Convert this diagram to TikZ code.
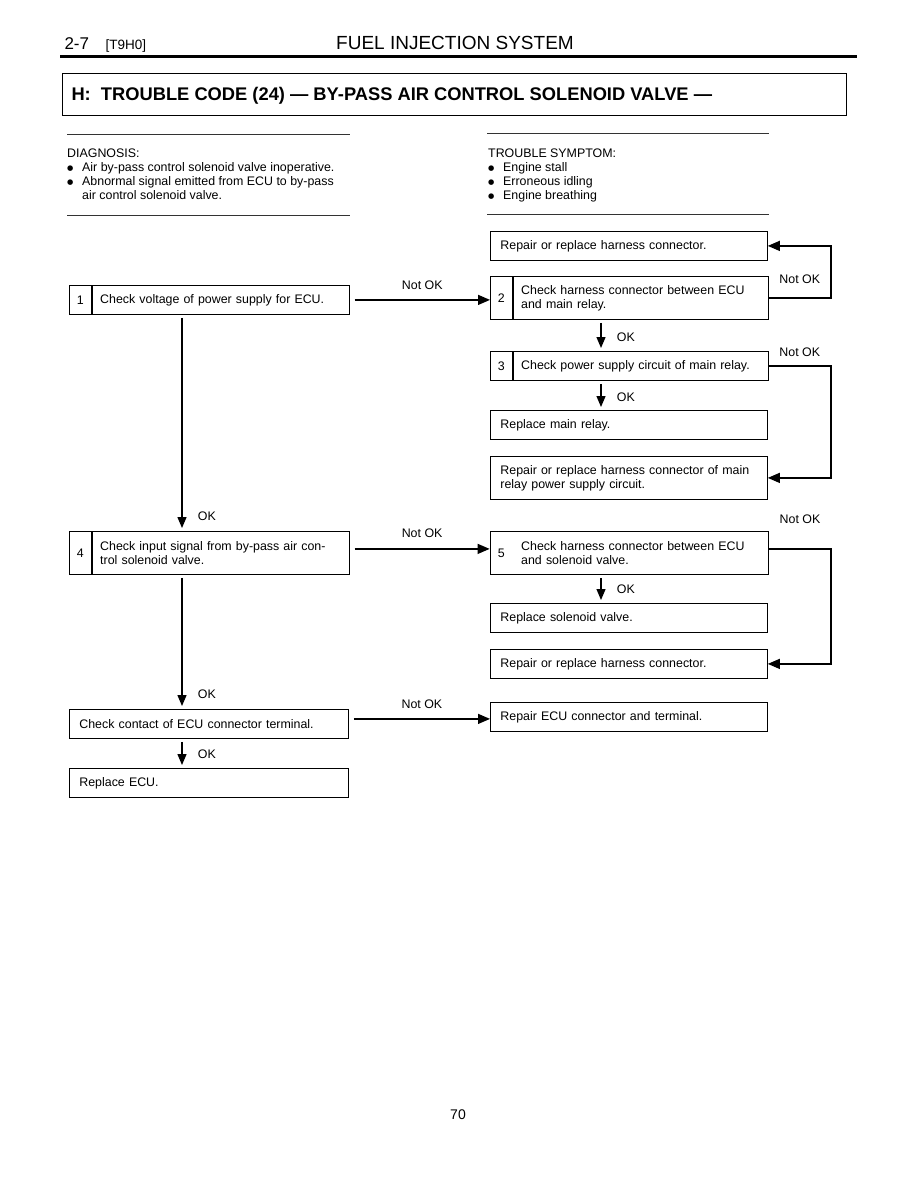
\documentclass[tikz,border=0pt]{standalone}
\usepackage{fontspec}
\setmainfont{Liberation Sans}
\newfontfamily\symfont{DejaVu Sans}
\usetikzlibrary{arrows.meta,positioning,fit}
\newcommand{\bul}{\makebox[15pt][l]{\raisebox{1.2pt}{\symfont\fontsize{7.2}{9}\selectfont ●}}}

\begin{document}
\begin{tikzpicture}[x=1pt,y=-1pt,
every node/.style={font=\fontsize{12.4}{14}\selectfont},
box/.style={draw,line width=.8pt,anchor=north west,inner xsep=10pt,inner ysep=0pt,
  align=left,text width=257pt,minimum height=29pt},
num/.style={draw,line width=.8pt,anchor=north west,inner sep=0pt,
  minimum width=22pt,minimum height=29pt},
cell/.style={draw,line width=.8pt,inner xsep=8pt,inner ysep=0pt,
  align=left,text width=241pt,minimum height=29pt},
tall/.style={minimum height=43pt},
link/.style={line width=1.3pt,-{Triangle[length=12pt,width=10pt]}},
okarrow/.style={line width=1.3pt,-{Triangle[length=11pt,width=9pt]},
  shorten <=3pt,shorten >=3pt},
rule/.style={line width=.7pt,black!80}]
\fill[white] (0,0) rectangle (918,1188);

% page header
\node[anchor=base west,font=\fontsize{17}{20}\selectfont] (pg) at (61,50) {2-7};
\node[anchor=base west,font=\fontsize{13.5}{16}\selectfont] (code) at (102,50) {[T9H0]};
\node[anchor=base,font=\fontsize{19}{22}\selectfont] (sec) at (455,50) {FUEL INJECTION SYSTEM};
\draw[line width=3pt] (60,57) -- (857,57);
\node[draw,line width=.8pt,anchor=north west,inner sep=0pt,
  minimum width=784pt,minimum height=42pt] (ttl) at (62,73) {};
\node[anchor=west,font=\bfseries\fontsize{18.3}{20}\selectfont] (ttltxt) at (68,96)
  {H:\ \ TROUBLE CODE (24) — BY-PASS AIR CONTROL SOLENOID VALVE —};

% diagnosis and symptom
\draw[rule] (67,134) -- (350,134);
\draw[rule] (67,215) -- (350,215);
\draw[rule] (487,133) -- (769,133);
\draw[rule] (487,214) -- (769,214);
\node[anchor=north west,inner sep=0pt,align=left,font=\fontsize{12.4}{14}\selectfont] (diag) at (67,149)
  {DIAGNOSIS:\\
   \bul Air by-pass control solenoid valve inoperative.\\
   \bul Abnormal signal emitted from ECU to by-pass\\
   \hspace*{15pt}air control solenoid valve.};
\node[anchor=north west,inner sep=0pt,align=left,font=\fontsize{12.4}{14}\selectfont] (symp) at (488,149)
  {TROUBLE SYMPTOM:\\
   \bul Engine stall\\
   \bul Erroneous idling\\
   \bul Engine breathing};

% left column
\node[num] (n1) at (69,285) {1};
\node[cell,right=0pt of n1] (b1) {Check voltage of power supply for ECU.};
\node[num,tall] (n4) at (69,531) {4};
\node[cell,tall,right=0pt of n4] (b4) {Check input signal from by-pass air con-\\trol solenoid valve.};
\node[box,text width=259pt] (b6) at (69,709) {Check contact of ECU connector terminal.};
\node[box,text width=259pt] (b7) at (69,768) {Replace ECU.};

% right column
\node[box] (r1) at (490,231) {Repair or replace harness connector.};
\node[num,tall] (n2) at (490,276) {2};
\node[cell,tall,text width=239pt,right=0pt of n2] (b2) {Check harness connector between ECU\\and main relay.};
\node[num] (n3) at (490,351) {3};
\node[cell,text width=239pt,right=0pt of n3] (b3) {Check power supply circuit of main relay.};
\node[box] (r3a) at (490,410) {Replace main relay.};
\node[box,tall] (r3b) at (490,456) {Repair or replace harness connector of main\\relay power supply circuit.};
\node[num,tall,draw=none] (n5) at (490,531) {5};
\node[cell,tall,draw=none,text width=239pt,right=0pt of n5] (b5) {Check harness connector between ECU\\and solenoid valve.};
\node[draw,line width=.8pt,inner sep=0pt,fit=(n5)(b5)] (f5) {};
\node[box] (r5a) at (490,603) {Replace solenoid valve.};
\node[box] (r5b) at (490,649) {Repair or replace harness connector.};
\node[box] (r6) at (490,702) {Repair ECU connector and terminal.};

\coordinate (lx) at (182,0);
\coordinate (rx) at (601,0);
\coordinate (loopx) at (831,0);

% Not OK links
\draw[link] ([xshift=5pt]b1.east) -- (b1.east -| n2.west) node[midway,above=6pt] {Not OK};
\draw[link] ([xshift=5pt,yshift=4pt]b4.east) -- ([yshift=4pt]b4.east -| f5.west) node[midway,above=7pt] {Not OK};
\draw[link] ([xshift=5pt,yshift=5pt]b6.east) -- ([yshift=5pt]b6.east -| r6.west) node[midway,above=6pt] {Not OK};
\draw[link] (b2.east) -- (b2.east -| loopx) node[midway,above=10pt] {Not OK} |- (r1.east);
\draw[link] (b3.east) -- (b3.east -| loopx) node[midway,above=5pt] {Not OK} |- (r3b.east);
\draw[link] ([yshift=4pt]f5.east) -- ([yshift=4pt]f5.east -| loopx) node[midway,above=21pt] {Not OK} |- (r5b.east);

% OK arrows
\draw[okarrow] (lx |- b1.south) -- (lx |- n4.north) node[pos=.93,right=12pt] {OK};
\draw[okarrow] (lx |- b4.south) -- (lx |- b6.north) node[pos=.89,right=12pt] {OK};
\draw[okarrow] (lx |- b6.south) -- (lx |- b7.north) node[pos=.53,right=12pt] {OK};
\draw[okarrow] (rx |- b2.south) -- (rx |- n3.north) node[pos=.55,right=12pt] {OK};
\draw[okarrow] (rx |- b3.south) -- (rx |- r3a.north) node[pos=.57,right=12pt] {OK};
\draw[okarrow] (rx |- f5.south) -- (rx |- r5a.north) node[pos=.52,right=12pt] {OK};

% page number
\node[font=\fontsize{14}{16}\selectfont] (pno) at (458,1115) {70};
\end{tikzpicture}
\end{document}
